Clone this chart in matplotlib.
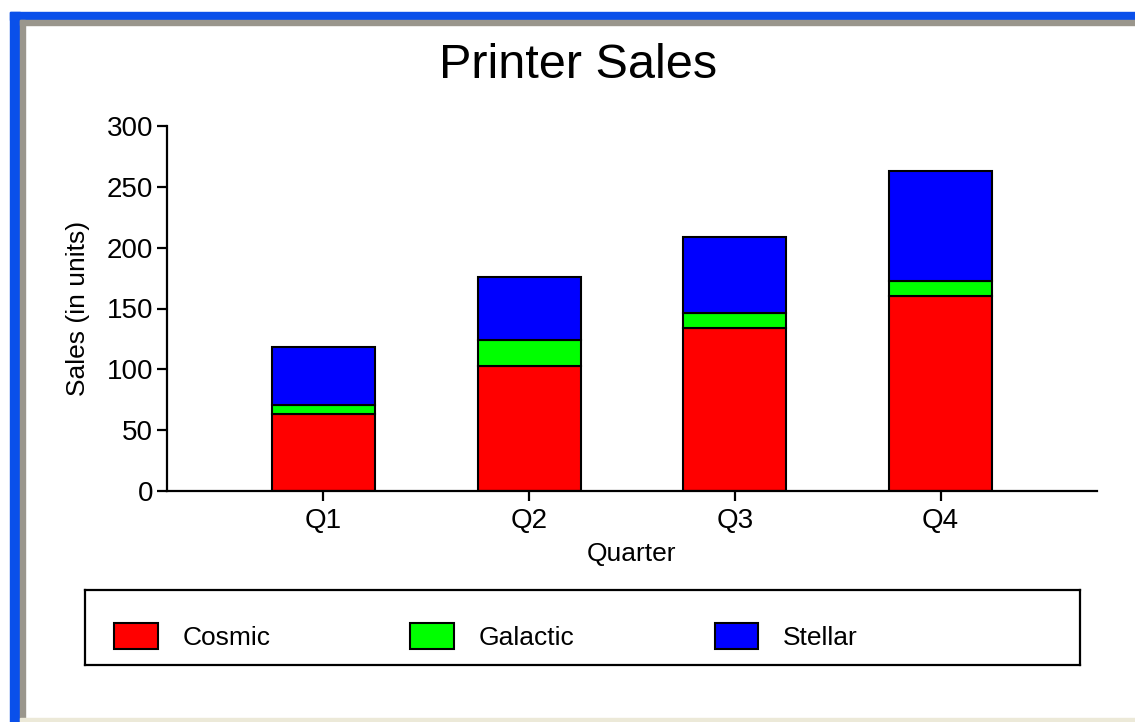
import numpy as np
import matplotlib.pyplot as plt
from matplotlib.patches import Rectangle

# data
quarters = ['Q1', 'Q2', 'Q3', 'Q4']
cosmic = [63, 103, 134, 160]
galactic = [8, 21, 12, 13]
stellar = [47, 52, 63, 90]
series_names = ['Cosmic', 'Galactic', 'Stellar']
series_colors = ['#ff0000', '#00ff00', '#0000ff']
yticks = [0, 50, 100, 150, 200, 250, 300]

W, H = 1135, 722
plt.rcParams['font.family'] = ['Liberation Sans', 'DejaVu Sans']

fig = plt.figure(figsize=(W / 100, H / 100), dpi=100)
fig.patch.set_facecolor('white')

# window frame (blue border, grey inner edge, beige strip at bottom)
fig.patches.append(Rectangle((10 / W, 0), 10 / W, 1 - 12 / H, transform=fig.transFigure,
                             color='#0a50ea', zorder=0))
fig.patches.append(Rectangle((10 / W, 1 - 20 / H), 1, 8 / H, transform=fig.transFigure,
                             color='#0a50ea', zorder=0))
fig.patches.append(Rectangle((20 / W, 0), 5 / W, 1 - 20 / H, transform=fig.transFigure,
                             color='#9a968c', zorder=0))
fig.patches.append(Rectangle((20 / W, 1 - 25 / H), 1, 5 / H, transform=fig.transFigure,
                             color='#9a968c', zorder=0))
fig.patches.append(Rectangle((20 / W, 0), 1, 4 / H, transform=fig.transFigure,
                             color='#ece9d8', zorder=0))

# main plot area
ax = fig.add_axes([167 / W, 1 - 491 / H, 930 / W, 365 / H])
ax.set_facecolor('none')
x = np.arange(len(quarters))
bottom = np.zeros(len(quarters))
handles = []
for name, vals, col in zip(series_names, [cosmic, galactic, stellar], series_colors):
    b = ax.bar(x, vals, width=0.5, bottom=bottom, color=col, edgecolor='black',
               linewidth=1.5, label=name)
    handles.append(b)
    bottom += np.array(vals)

ax.set_xlim(-0.76, 3.76)
ax.set_ylim(0, 300)
ax.set_yticks(yticks)
ax.set_xticks(x)
ax.set_xticklabels(quarters)
ax.spines['top'].set_visible(False)
ax.spines['right'].set_visible(False)
for s in ['left', 'bottom']:
    ax.spines[s].set_linewidth(1.6)
ax.tick_params(length=7, width=1.6, labelsize=20, pad=3)
ax.tick_params(axis='x', pad=5)
ax.set_xlabel('Quarter', fontsize=19, labelpad=6)
ax.set_ylabel('Sales (in units)', fontsize=19, labelpad=12)

fig.text(578 / W, 1 - 65 / H, 'Printer Sales', fontsize=35, ha='center', va='center')

# legend box
lax = fig.add_axes([85 / W, 1 - 665 / H, 995 / W, 75 / H])
lax.set_xticks([])
lax.set_yticks([])
lax.set_facecolor('none')
for s in lax.spines.values():
    s.set_linewidth(1.6)
lax.legend(handles, series_names, loc='center left', bbox_to_anchor=(0, 0.38),
           ncol=3, frameon=False, fontsize=19, handlelength=1.65, handleheight=1.1,
           handletextpad=0.95, columnspacing=5.3, borderaxespad=0, borderpad=1.1)

fig.savefig('out.png', dpi=100)
